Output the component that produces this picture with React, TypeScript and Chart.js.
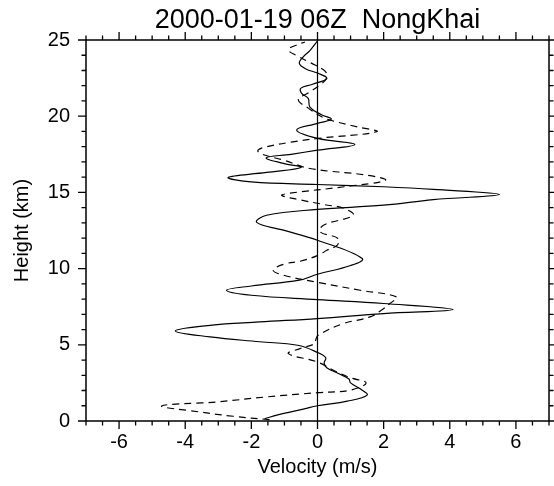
import React, { useEffect, useRef } from "react";
import { Chart, registerables } from "chart.js";

Chart.register(...registerables);

const titleText = "2000-01-19 06Z  NongKhai";
const xTitle = "Velocity (m/s)";
const yTitle = "Height (km)";

const xTickValues = [-6, -4, -2, 0, 2, 4, 6];
const yTickValues = [0, 5, 10, 15, 20, 25];
const xMinorStep = 0.5;
const yMinorStep = 1;

// Solid profile
const solidHeight = [
  0.15, 0.4, 0.6, 0.8, 1.0, 1.3, 1.7, 2.1, 2.5, 2.75, 3.1, 3.5, 3.8, 4.15, 4.5,
  4.97, 5.2, 5.52, 5.91, 6.28, 6.5, 6.72, 7.05, 7.31, 7.71, 7.97, 8.25, 8.58, 8.86,
  9.24, 9.63, 10.2, 10.66, 11.86, 12.52, 13.03, 13.5, 13.88, 14.16, 14.53, 14.86,
  15.2, 15.37, 15.52, 15.69, 15.98, 16.31, 16.64, 16.9, 17.27, 17.5, 17.77, 18.15,
  18.54, 19.09, 19.53, 19.81, 20.1, 20.6, 21.17, 21.5, 21.84, 22.1, 22.48, 22.83,
  23.1, 23.46, 23.9, 24.3, 24.95,
];
const solidVelocity = [
  -1.6, -1.2, -0.8, -0.4, 0.0, 0.9, 1.5, 1.3, 1.0, 0.95, 0.65, 0.28, 0.2, 0.25, 0.0,
  -0.6, -1.75, -3.25, -4.3, -3.25, -1.75, 0.0, 2.0, 4.1, 2.0, 0.0, -2.0, -2.75, -2.0,
  -0.55, 0.0, 1.0, 1.35, 0.0, -1.03, -1.84, -1.54, 0.0, 2.0, 3.5, 5.5,
  3.5, 2.0, 0.0, -2.0, -2.7, -1.54, -0.5, -1.03, -1.55, -0.8, 0.0, 1.13,
  0.0, -0.63, 0.0, 0.42, 0.12, -0.23, -0.28, -0.48, -0.5, -0.15, 0.28, 0.0,
  -0.35, -0.55, -0.43, -0.23, 0.0,
];

// Dashed profile
const dashedHeight = [
  0.09, 0.31, 0.59, 0.99, 1.25, 1.58, 1.86, 2.02, 2.5, 2.85, 3.33, 3.87, 4.42, 4.75,
  5.08, 5.35, 5.63, 6.39, 6.83, 7.3, 7.71, 8.14, 8.58, 9.1, 9.57, 9.9, 10.3, 10.5,
  10.9, 11.2, 11.54, 11.98, 12.41, 12.85, 13.5, 13.95, 14.2, 14.5, 14.8, 14.95,
  15.37, 15.8, 16.13, 16.57, 17.1, 17.56, 17.77, 17.99, 18.3, 18.54, 18.98, 19.3,
  19.68, 19.9, 20.53, 21.08, 21.5, 22.0, 22.5, 22.8, 23.05, 23.5, 23.92, 24.36,
  24.7, 24.87,
];
const dashedVelocity = [
  -1.45, -2.55, -3.55, -4.71, -3.05, -1.54, 0.0, 0.98, 1.47, 0.98, 0.48, 0.0, -0.88, -0.53,
  -0.08, -0.05, 0.02, 0.78, 1.59, 1.95, 2.19, 2.39, 1.29, 0.0, -1.03, -1.34, -1.0, -0.5,
  0.05, 0.28, 0.6, 0.62, 0.08, 0.18, 1.08, 0.8, 0.2, -0.5, -1.08, -0.83,
  0.8, 2.05, 1.49, -0.23, -1.0, -1.74, -1.8, -1.54, -0.8, 0.0, 1.79, 1.2,
  0.48, 0.18, -0.28, -0.58, -0.3, 0.05, 0.28, 0.28, 0.18, -0.2, -0.58, -0.88,
  -0.6, -0.38,
];

const FONT = "'Liberation Sans', Arial, Helvetica, sans-serif";

const framePlugin = {
  id: "frame",
  afterDatasetsDraw(chart: any) {
    const { ctx, chartArea } = chart;
    const xs = chart.scales.x;
    const ys = chart.scales.y;
    const { left, right, top, bottom } = chartArea;
    ctx.save();
    ctx.strokeStyle = "#000";
    // zero line
    ctx.lineWidth = 1.2;
    const x0 = xs.getPixelForValue(0);
    ctx.beginPath();
    ctx.moveTo(x0, top);
    ctx.lineTo(x0, bottom);
    ctx.stroke();
    // frame
    ctx.lineWidth = 1.5;
    ctx.strokeRect(left, top, right - left, bottom - top);
    // ticks
    const majorLen = 8;
    const minorLen = 4.5;
    ctx.lineWidth = 1.3;
    const isMajorX = (v: number) => xTickValues.some((t) => Math.abs(t - v) < 1e-6);
    const isMajorY = (v: number) => yTickValues.some((t) => Math.abs(t - v) < 1e-6);
    ctx.beginPath();
    for (let v = xs.min; v <= xs.max + 1e-6; v += xMinorStep) {
      const px = xs.getPixelForValue(v);
      const len = isMajorX(v) ? majorLen : minorLen;
      ctx.moveTo(px, bottom);
      ctx.lineTo(px, bottom + len);
      ctx.moveTo(px, top);
      ctx.lineTo(px, top - len);
    }
    for (let v = ys.min; v <= ys.max + 1e-6; v += yMinorStep) {
      const py = ys.getPixelForValue(v);
      const len = isMajorY(v) ? majorLen : minorLen;
      ctx.moveTo(left, py);
      ctx.lineTo(left - len, py);
      ctx.moveTo(right, py);
      ctx.lineTo(right + len, py);
    }
    ctx.stroke();
    ctx.restore();
  },
};

export default function App() {
  const ref = useRef<HTMLCanvasElement | null>(null);
  useEffect(() => {
    if (!ref.current) return;
    const solid = solidHeight.map((h, i) => ({ x: solidVelocity[i], y: h }));
    const dashed = dashedHeight.map((h, i) => ({ x: dashedVelocity[i], y: h }));
    const chart = new Chart(ref.current, {
      type: "scatter",
      data: {
        datasets: [
          {
            data: solid,
            showLine: true,
            borderColor: "#000",
            borderWidth: 1.2,
            pointRadius: 0,
            tension: 0.4,
            fill: false,
          },
          {
            data: dashed,
            showLine: true,
            borderColor: "#000",
            borderWidth: 1.2,
            borderDash: [7, 5],
            pointRadius: 0,
            tension: 0.4,
            fill: false,
          },
        ],
      },
      options: {
        animation: false,
        responsive: false,
        maintainAspectRatio: false,
        events: [],
        layout: { padding: { left: 0, right: 5, top: 0, bottom: 0 } },
        plugins: {
          legend: { display: false },
          tooltip: { enabled: false },
          title: {
            display: true,
            fullSize: false,
            text: titleText,
            color: "#000",
            font: { family: FONT, size: 27, weight: "normal" },
            padding: { top: 4, bottom: 3.6 },
          },
        },
        scales: {
          x: {
            type: "linear",
            position: "bottom",
            min: -7,
            max: 7,
            grid: { display: false, drawTicks: false },
            border: { display: false },
            afterBuildTicks: (s: any) => {
              s.ticks = xTickValues.map((v) => ({ value: v }));
            },
            afterFit: (s: any) => {
              s.height = 65;
            },
            ticks: {
              padding: 9,
              color: "#000",
              font: { family: FONT, size: 20 },
              maxRotation: 0,
              autoSkip: false,
            },
            title: {
              display: true,
              text: xTitle,
              color: "#000",
              font: { family: FONT, size: 20 },
              padding: { top: 0, bottom: 7 },
            },
          },
          y: {
            type: "linear",
            position: "left",
            min: 0,
            max: 25,
            grid: { display: false, drawTicks: false },
            border: { display: false },
            afterBuildTicks: (s: any) => {
              s.ticks = yTickValues.map((v) => ({ value: v }));
            },
            afterFit: (s: any) => {
              s.width = 86;
            },
            ticks: {
              padding: 16,
              color: "#000",
              font: { family: FONT, size: 20 },
              autoSkip: false,
            },
            title: {
              display: true,
              text: yTitle,
              color: "#000",
              font: { family: FONT, size: 20 },
              padding: { top: 10, bottom: 0 },
            },
          },
        },
      },
      plugins: [framePlugin],
    });
    return () => chart.destroy();
  }, []);
  return (
    <div style={{ position: "absolute", left: 0, top: 0, width: 554, height: 486, background: "#fff" }}>
      <canvas ref={ref} width={554} height={486} />
    </div>
  );
}
